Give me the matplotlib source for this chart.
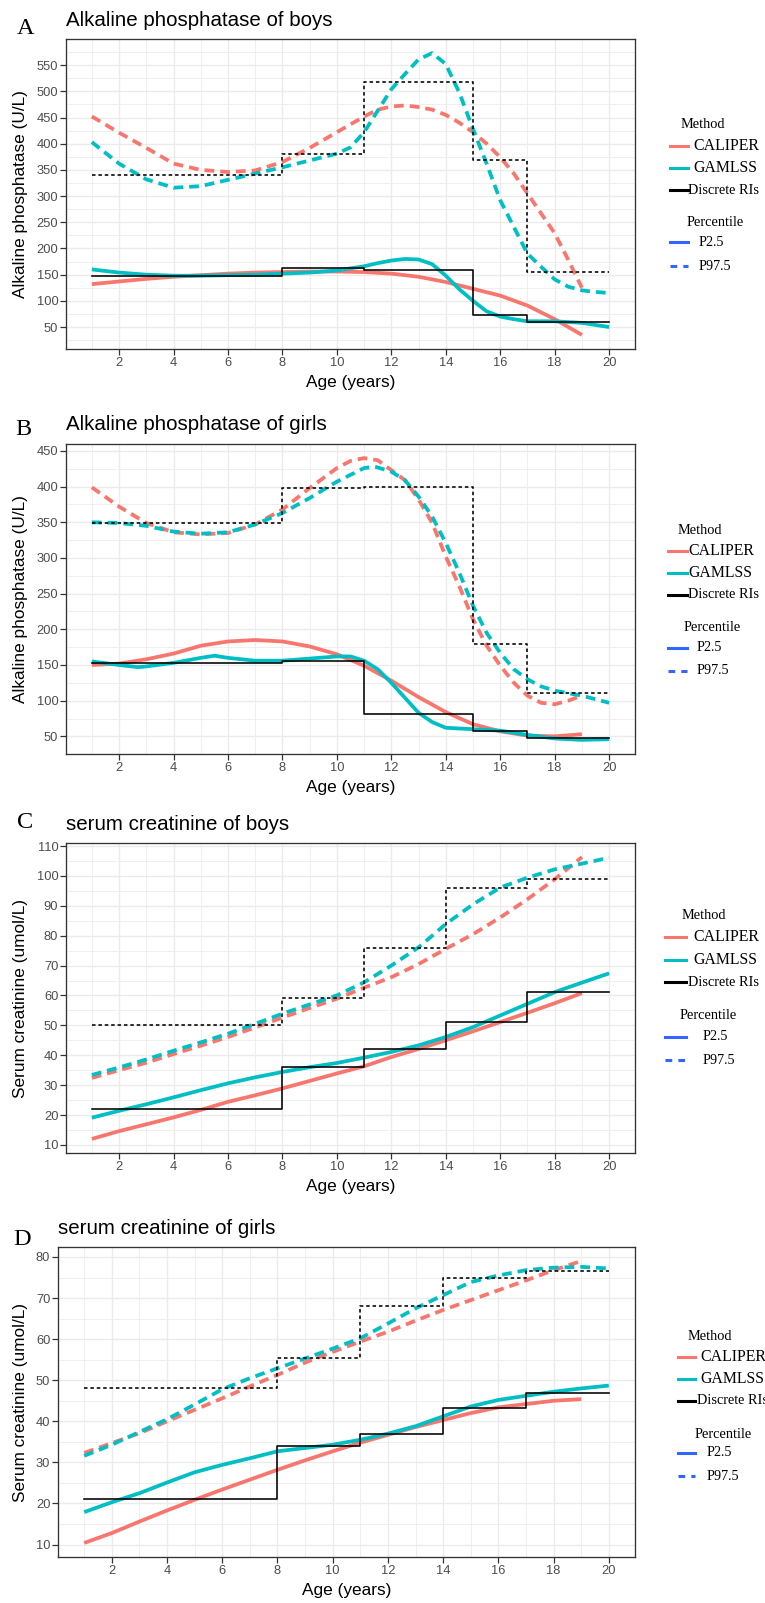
import matplotlib
matplotlib.use("Agg")
import matplotlib.pyplot as plt
from matplotlib.lines import Line2D
from matplotlib.ticker import MultipleLocator, AutoMinorLocator

# ---------------- data ----------------
# Panel A: Alkaline phosphatase of boys
A_cal_lo_x = [1, 2, 3, 4, 5, 6, 7, 8, 9, 10, 11, 12, 13, 14, 15, 16, 17, 18, 19]
A_cal_lo_y = [132, 137, 142, 146, 149, 152, 154, 155, 156, 156, 155, 152, 146, 136, 123, 110, 91, 65, 35]
A_gam_lo_x = [1, 2, 3, 4, 5, 6, 7, 8, 9, 10, 11, 11.5, 12, 12.5, 13, 13.5, 14, 14.5, 15, 15.5, 16, 16.5, 17, 18, 19, 20]
A_gam_lo_y = [160, 154, 150, 148, 148, 149, 150, 152, 154, 158, 166, 172, 177, 180, 179, 170, 148, 122, 100, 80, 70, 65, 61, 61, 58, 50]
A_cal_hi_x = [1, 2, 3, 4, 5, 6, 7, 8, 9, 10, 11, 11.5, 12, 12.5, 13, 13.5, 14, 14.5, 15, 15.5, 16, 16.5, 17, 17.5, 18, 18.5, 19]
A_cal_hi_y = [452, 421, 392, 362, 350, 346, 349, 365, 392, 422, 452, 465, 471, 473, 470, 465, 455, 440, 422, 400, 374, 343, 305, 267, 229, 178, 125]
A_gam_hi_x = [1, 2, 3, 4, 5, 6, 7, 8, 9, 10, 10.5, 11, 11.5, 12, 12.5, 13, 13.5, 14, 14.5, 15, 15.5, 16, 16.5, 17, 17.5, 18, 18.5, 19, 19.5, 20]
A_gam_hi_y = [403, 362, 332, 316, 319, 331, 343, 355, 368, 381, 393, 422, 463, 504, 533, 561, 573, 552, 497, 428, 362, 292, 241, 190, 165, 141, 127, 120, 117, 115]
A_rng = [1, 8, 11, 15, 17, 20]
A_dis_lo = [148, 162, 158, 73, 60]
A_dis_hi = [340, 381, 518, 368, 155]

# Panel B: Alkaline phosphatase of girls
B_cal_lo_x = [1, 2, 3, 4, 5, 6, 7, 8, 9, 10, 11, 12, 13, 14, 15, 16, 17, 18, 19]
B_cal_lo_y = [150, 152, 158, 166, 177, 183, 185, 183, 176, 165, 149, 128, 105, 84, 67, 57, 51, 50, 53]
B_gam_lo_x = [1, 2, 2.7, 3, 4, 5, 5.5, 6, 7, 8, 9, 10, 10.5, 11, 11.5, 12, 12.5, 13, 13.5, 14, 15, 16, 17, 18, 19, 20]
B_gam_lo_y = [155, 150, 147, 148, 153, 160, 163, 160, 156, 156, 159, 162, 162, 156, 144, 125, 104, 83, 70, 62, 60, 58, 52, 47, 45, 46]
B_cal_hi_x = [1, 2, 3, 4, 5, 6, 7, 8, 9, 10, 10.5, 11, 11.5, 12, 12.5, 13, 13.5, 14, 14.5, 15, 15.5, 16, 16.5, 17, 17.5, 18, 18.5, 19]
B_cal_hi_y = [399, 372, 349, 336, 333, 335, 347, 368, 398, 426, 436, 440, 437, 423, 409, 382, 349, 302, 260, 214, 177, 149, 125, 107, 97, 95, 100, 107]
B_gam_hi_x = [1, 2, 3, 4, 5, 6, 7, 8, 9, 10, 11, 11.4, 12, 12.5, 13, 13.5, 14, 14.5, 15, 15.5, 16, 16.5, 17, 17.5, 18, 19, 20]
B_gam_hi_y = [350, 349, 345, 337, 334, 336, 347, 363, 384, 407, 426, 428, 421, 409, 386, 358, 321, 279, 233, 195, 167, 144, 130, 120, 114, 107, 97]
B_rng = [1, 8, 11, 15, 17, 20]
B_dis_lo = [153, 155, 82, 58, 47]
B_dis_hi = [349, 398, 400, 180, 111]

# Panel C: serum creatinine of boys
C_cal_lo_x = [1, 2, 3, 4, 5, 6, 7, 8, 9, 10, 11, 12, 13, 14, 15, 16, 17, 18, 19]
C_cal_lo_y = [12, 14.6, 16.9, 19.2, 21.7, 24.4, 26.6, 28.9, 31.4, 33.9, 36.3, 39.4, 42.1, 45, 48, 51.1, 54.2, 57.4, 60.8]
C_gam_lo_x = [1, 2, 3, 4, 5, 6, 7, 8, 9, 10, 11, 12, 13, 14, 15, 16, 17, 18, 19, 20]
C_gam_lo_y = [19.1, 21.4, 23.6, 25.9, 28.3, 30.6, 32.6, 34.4, 36, 37.4, 39.2, 41.1, 43.3, 46.1, 49.4, 53.3, 57.2, 61.1, 64.3, 67.4]
C_cal_hi_x = [1, 2, 3, 4, 5, 6, 7, 8, 9, 10, 11, 12, 13, 14, 15, 16, 17, 18, 19]
C_cal_hi_y = [32.4, 35, 37.5, 40.4, 43.2, 46.1, 49.3, 52.6, 55.8, 58.9, 62.6, 66.1, 70.5, 75.6, 80.5, 86.1, 92.2, 98.9, 106.3]
C_gam_hi_x = [1, 2, 3, 4, 5, 6, 7, 8, 9, 10, 11, 12, 13, 14, 15, 16, 17, 18, 19, 20]
C_gam_hi_y = [33.4, 35.9, 38.6, 41.5, 44.3, 47.2, 50.5, 53.9, 57, 60, 64.4, 70, 76.1, 83.9, 90.5, 96.1, 99.4, 102.2, 104.1, 106.1]
C_rng = [1, 8, 11, 14, 17, 20]
C_dis_lo = [22, 36, 42, 51, 61]
C_dis_hi = [50, 59, 76, 96, 99]

# Panel D: serum creatinine of girls
D_cal_lo_x = [1, 2, 3, 4, 5, 6, 7, 8, 9, 10, 11, 12, 13, 14, 15, 16, 17, 18, 19]
D_cal_lo_y = [10.4, 12.8, 15.6, 18.3, 20.9, 23.4, 25.8, 28.2, 30.5, 32.7, 34.8, 36.7, 38.6, 40.3, 42, 43.4, 44.2, 45, 45.4]
D_gam_lo_x = [1, 2, 3, 4, 5, 6, 7, 8, 9, 10, 11, 12, 13, 14, 15, 16, 17, 18, 19, 20]
D_gam_lo_y = [17.9, 20.3, 22.5, 25.1, 27.6, 29.4, 31, 32.7, 33.5, 34.3, 35.5, 37, 38.8, 41.2, 43.6, 45.2, 46.2, 47.2, 48, 48.7]
D_cal_hi_x = [1, 2, 3, 4, 5, 6, 7, 8, 9, 10, 11, 12, 13, 14, 15, 16, 17, 18, 19]
D_cal_hi_y = [32.3, 34.7, 37.1, 40, 42.8, 45.6, 48.5, 51.3, 54.3, 56.9, 59.4, 61.8, 64.5, 67.1, 69.5, 71.9, 74.3, 76.8, 79]
D_gam_hi_x = [1, 2, 3, 4, 5, 6, 7, 8, 9, 10, 11, 12, 13, 14, 15, 16, 17, 18, 19, 20]
D_gam_hi_y = [31.6, 34.3, 37.4, 40.5, 44.1, 47.8, 50.5, 52.9, 55.3, 57.7, 60.2, 63.8, 67.5, 70.7, 73.9, 75.5, 76.8, 77.4, 77.6, 77.2]
D_rng = [1, 8, 11, 14, 17, 20]
D_dis_lo = [21, 34, 37, 43.3, 47]
D_dis_hi = [48, 55.5, 68, 75, 76.5]

titles = ["Alkaline phosphatase of boys", "Alkaline phosphatase of girls",
          "serum creatinine of boys", "serum creatinine of girls"]
letters = ["A", "B", "C", "D"]
ylabels = ["Alkaline phosphatase (U/L)", "Alkaline phosphatase (U/L)",
           "Serum creatinine (umol/L)", "Serum creatinine (umol/L)"]
xlabel = "Age (years)"
method_labels = ["CALIPER", "GAMLSS", "Discrete RIs"]
pct_labels = ["P2.5", "P97.5"]

# ---------------- style ----------------
RED = "#F8766D"
CYAN = "#00BFC4"
BLUE = "#3366FF"
GRID = "#EBEBEB"
DARK = "#333333"
TICKC = "#4D4D4D"
SANS = ["Liberation Sans", "DejaVu Sans"]
SERIF = ["Liberation Serif", "DejaVu Serif"]

W, H = 765, 1603
fig = plt.figure(figsize=(W / 100, H / 100), dpi=100)


def fx(px):
    return px / W


def fy(py):
    return 1 - py / H


panels = [
    dict(data=(A_cal_lo_x, A_cal_lo_y, A_gam_lo_x, A_gam_lo_y, A_cal_hi_x, A_cal_hi_y,
               A_gam_hi_x, A_gam_hi_y, A_rng, A_dis_lo, A_dis_hi),
         box=(66, 39, 635, 349), step=50, title_base=26, letter=(17, 34)),
    dict(data=(B_cal_lo_x, B_cal_lo_y, B_gam_lo_x, B_gam_lo_y, B_cal_hi_x, B_cal_hi_y,
               B_gam_hi_x, B_gam_hi_y, B_rng, B_dis_lo, B_dis_hi),
         box=(66, 444, 635, 754), step=50, title_base=430, letter=(15, 435)),
    dict(data=(C_cal_lo_x, C_cal_lo_y, C_gam_lo_x, C_gam_lo_y, C_cal_hi_x, C_cal_hi_y,
               C_gam_hi_x, C_gam_hi_y, C_rng, C_dis_lo, C_dis_hi),
         box=(66, 843, 635, 1153), step=10, title_base=830, letter=(17, 828)),
    dict(data=(D_cal_lo_x, D_cal_lo_y, D_gam_lo_x, D_gam_lo_y, D_cal_hi_x, D_cal_hi_y,
               D_gam_hi_x, D_gam_hi_y, D_rng, D_dis_lo, D_dis_hi),
         box=(58, 1247, 635, 1557), step=10, title_base=1234, letter=(13, 1245)),
]

# legend layouts: title/entry centre y, line x-range, text x
legends = [
    dict(m_title=(681, 125), rows=(146, 168, 190), line=(670, 688), mtext=(693, 693, 688),
         p_title=(687, 223), prow=(242, 266), ptext=699),
    dict(m_title=(678, 530), rows=(551, 573, 595), line=(668, 687), mtext=(688, 688, 688),
         p_title=(684, 628), prow=(648, 671), ptext=697),
    dict(m_title=(682, 915), rows=(937, 960, 982), line=(665, 686), mtext=(693, 693, 688),
         p_title=(680, 1016), prow=(1037, 1060), ptext=703),
    dict(m_title=(688, 1336), rows=(1357, 1379, 1401), line=(678, 695), mtext=(700, 700, 697),
         p_title=(695, 1434), prow=(1453, 1476), ptext=707),
]

LW = 2.7
DASH = (0, (2.6, 1.6))
DOT = (0, (2.2, 1.8))

for i, p in enumerate(panels):
    (clx, cly, glx, gly, chx, chy, ghx, ghy, rng, dlo, dhi) = p["data"]
    l, t, r, b = p["box"]
    ax = fig.add_axes([fx(l), fy(b), (r - l) / W, (b - t) / H])

    ax.plot(clx, cly, color=RED, lw=LW, solid_capstyle="butt", zorder=3)
    ax.plot(glx, gly, color=CYAN, lw=LW, solid_capstyle="butt", zorder=3)
    ax.plot(chx, chy, color=RED, lw=LW, ls=DASH, zorder=3)
    ax.plot(ghx, ghy, color=CYAN, lw=LW, ls=DASH, zorder=3)
    ax.step(rng, list(dlo) + [dlo[-1]], where="post", color="black", lw=1.15, zorder=4)
    ax.step(rng, list(dhi) + [dhi[-1]], where="post", color="black", lw=1.15, ls=DOT, zorder=4)

    allx = list(clx) + list(glx) + list(chx) + list(ghx) + list(rng)
    ally = list(cly) + list(gly) + list(chy) + list(ghy) + list(dlo) + list(dhi)
    xr = max(allx) - min(allx)
    yr = max(ally) - min(ally)
    ax.set_xlim(min(allx) - 0.05 * xr, max(allx) + 0.05 * xr)
    ax.set_ylim(min(ally) - 0.05 * yr, max(ally) + 0.05 * yr)

    ax.xaxis.set_major_locator(MultipleLocator(2))
    ax.xaxis.set_minor_locator(AutoMinorLocator(2))
    ax.yaxis.set_major_locator(MultipleLocator(p["step"]))
    ax.yaxis.set_minor_locator(AutoMinorLocator(2))
    ax.set_axisbelow(True)
    ax.grid(which="major", color=GRID, lw=1.0)
    ax.grid(which="minor", color=GRID, lw=0.55)
    ax.tick_params(which="major", length=4, width=0.9, color=DARK, pad=1.5,
                   labelsize=9.3, labelcolor=TICKC)
    ax.tick_params(which="minor", length=0)
    for lab in ax.get_xticklabels() + ax.get_yticklabels():
        lab.set_family(SANS)
    for s in ax.spines.values():
        s.set_color(DARK)
        s.set_linewidth(0.95)

    # titles and labels
    fig.text(fx(l), fy(p["title_base"]), titles[i], family=SANS, fontsize=14.8,
             ha="left", va="baseline")
    fig.text(fx(p["letter"][0]), fy(p["letter"][1]), letters[i], family=SERIF,
             fontsize=17.5, ha="left", va="baseline")
    fig.text(fx(21), fy((t + b) / 2), ylabels[i], family=SANS, fontsize=12.4,
             rotation=90, ha="center", va="center")
    fig.text(fx((l + r) / 2), fy(b + 34), xlabel, family=SANS, fontsize=12.4,
             ha="center", va="center")

    # legend
    lg = legends[i]
    fig.text(fx(lg["m_title"][0]), fy(lg["m_title"][1]), "Method", family=SERIF,
             fontsize=10.4, ha="left", va="center")
    cols = [RED, CYAN, "black"]
    sizes = [11.4, 11.4, 10.3]
    for j in range(3):
        yy = fy(lg["rows"][j])
        x0, x1 = lg["line"]
        fig.add_artist(Line2D([fx(x0), fx(x1)], [yy, yy], color=cols[j], lw=2.2,
                              transform=fig.transFigure))
        fig.text(fx(lg["mtext"][j]), yy, method_labels[j], family=SERIF,
                 fontsize=sizes[j], ha="left", va="center")
    fig.text(fx(lg["p_title"][0]), fy(lg["p_title"][1]), "Percentile", family=SERIF,
             fontsize=10.4, ha="left", va="center")
    for j in range(2):
        yy = fy(lg["prow"][j])
        x0, x1 = lg["line"]
        fig.add_artist(Line2D([fx(x0), fx(x1)], [yy, yy], color=BLUE, lw=2.2,
                              ls="-" if j == 0 else (0, (2.2, 2.0)),
                              transform=fig.transFigure))
        fig.text(fx(lg["ptext"]), yy, pct_labels[j], family=SERIF,
                 fontsize=10.2, ha="left", va="center")

fig.savefig("out.png", dpi=100)
